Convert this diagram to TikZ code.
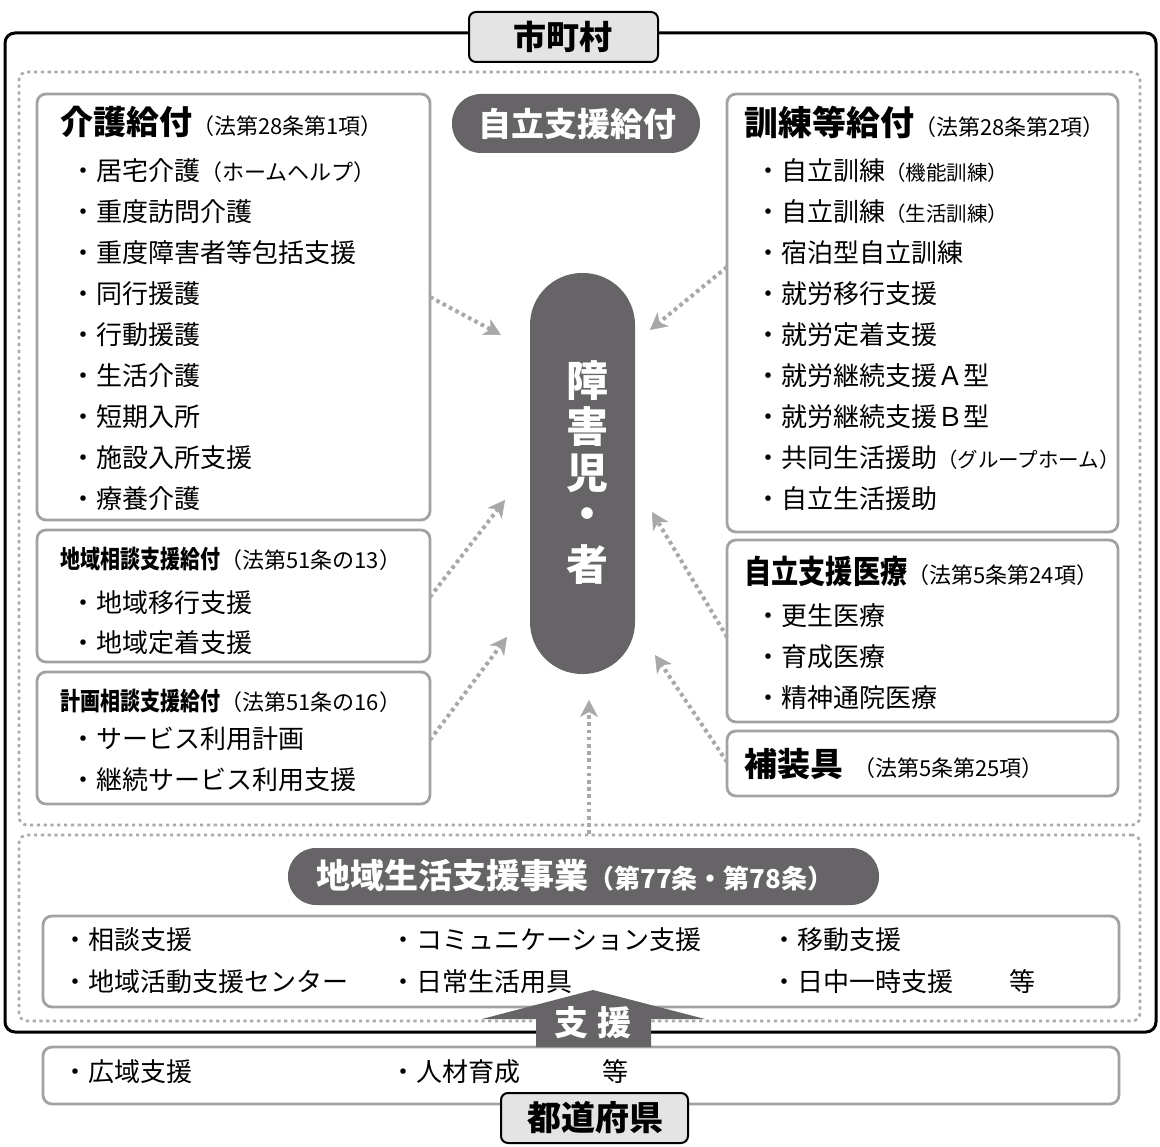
\documentclass[tikz,border=0pt]{standalone}
\usepackage{fontspec}
\usepackage{graphicx}
\setmainfont{Noto Sans CJK JP}
\usetikzlibrary{arrows.meta}
\definecolor{pillgray}{HTML}{666466}
\definecolor{boxgray}{HTML}{A2A2A2}
\definecolor{dotgray}{HTML}{ABABAB}
\definecolor{argray}{HTML}{A8A8A8}
\definecolor{lblfill}{HTML}{E4E4E4}
\newcommand{\fz}[1]{\fontsize{#1pt}{#1pt}\selectfont}
\newcommand{\cnd}[2]{\scalebox{#1}[1]{#2}}
\tikzset{
  frame/.style={draw=black, line width=3pt, rounded corners=10pt, inner sep=0pt, outer sep=0pt},
  dotbox/.style={draw=dotgray, line width=2.6pt, dash pattern=on 3.2pt off 3.6pt, rounded corners=8pt, inner sep=0pt, outer sep=0pt},
  gbox/.style={draw=boxgray, line width=2.8pt, rounded corners=9pt, fill=white, inner sep=0pt, outer sep=0pt},
  pill/.style={fill=pillgray, inner sep=0pt, outer sep=0pt},
  lbl/.style={draw=black, line width=2pt, rounded corners=7pt, fill=lblfill, inner sep=0pt, outer sep=0pt},
  conn/.style={draw=argray, line width=4pt, dash pattern=on 3.6pt off 3.6pt,
     -{Stealth[length=17pt,width=18pt,inset=5pt,line width=0.5pt]}},
  txt/.style={inner sep=0pt, anchor=west, font=\fz{26}},
  ttl/.style={inner sep=0pt, anchor=west, font=\fz{33}\bfseries},
  wtxt/.style={inner sep=0pt, text=white, font=\bfseries},
}
\begin{document}
\begin{tikzpicture}[x=1pt,y=-1pt]
\useasboundingbox (0,0) rectangle (1160,1147);
\fill[white] (0,0) rectangle (1160,1147);

% outer frame and dotted regions
\node[frame, minimum width=1151pt, minimum height=999pt, anchor=north west] (city) at (5,33) {};
\node[dotbox, minimum width=1121pt, minimum height=753pt, anchor=north west] (upper) at (19,72) {};
\node[dotbox, minimum width=1121pt, minimum height=186pt, anchor=north west] (lower) at (19,835) {};

% boxes
\node[gbox, minimum width=393pt, minimum height=426pt, anchor=north west] (kaigo) at (37,94) {};
\node[gbox, minimum width=393pt, minimum height=132pt, anchor=north west] (chiiki) at (37,530) {};
\node[gbox, minimum width=393pt, minimum height=132pt, anchor=north west] (keikaku) at (37,672) {};
\node[gbox, minimum width=391pt, minimum height=438pt, anchor=north west] (kunren) at (727,94) {};
\node[gbox, minimum width=391pt, minimum height=182pt, anchor=north west] (iryo) at (727,540) {};
\node[gbox, minimum width=391pt, minimum height=65pt, anchor=north west] (hosogu) at (727,731) {};
\node[gbox, minimum width=1076pt, minimum height=91pt, anchor=north west] (chiikiitems) at (43,916) {};
\node[gbox, minimum width=1076pt, minimum height=57pt, anchor=north west] (prefitems) at (43,1047) {};

% pills
\node[pill, minimum width=248pt, minimum height=59pt, rounded corners=29pt, anchor=north west] (jiritsu) at (452,94) {};
\node[wtxt, font=\fz{33}\bfseries] (jiritsuT) at (577,124) {自立支援給付};
\node[pill, minimum width=105pt, minimum height=401pt, rounded corners=52pt, anchor=north west] (person) at (530,273) {};
\foreach \c [count=\i] in {障,害,児,・,者}
  \node[wtxt, font=\fz{42}\bfseries] (personT\i) at (587,{381+(\i-1)*46}) {\c};
\node[pill, minimum width=591pt, minimum height=57pt, rounded corners=28pt, anchor=north west] (chiikijigyo) at (288,848) {};
\node[wtxt, anchor=west, font=\fz{34}\bfseries] (chiikijigyoT) at (316,876) {地域生活支援事業\fz{26}（第77条・第78条）};

% 介護給付
\node[ttl] (kaigoT) at (60,122) {介護給付\fz{22}\mdseries（法第28条第1項）};
\foreach \t [count=\i] in {居宅介護{\fz{22}（ホームヘルプ）},重度訪問介護,重度障害者等包括支援,同行援護,行動援護,生活介護,短期入所,施設入所支援,療養介護}
  \node[txt] (kaigo\i) at (70,{499-(9-\i)*41.1}) {・\t};

% 地域相談支援給付
\node[ttl] (chiikiT) at (60,559) {\cnd{0.8}{\fz{25}\bfseries 地域相談支援給付}\fz{22}\mdseries（法第51条の13）};
\node[txt] (chiiki1) at (70,603) {・地域移行支援};
\node[txt] (chiiki2) at (70,643) {・地域定着支援};

% 計画相談支援給付
\node[ttl] (keikakuT) at (60,701) {\cnd{0.8}{\fz{25}\bfseries 計画相談支援給付}\fz{22}\mdseries（法第51条の16）};
\node[txt] (keikaku1) at (70,739) {・サービス利用計画};
\node[txt] (keikaku2) at (70,780) {・継続サービス利用支援};

% 訓練等給付
\node[ttl, font=\fz{34}\bfseries] (kunrenT) at (744,122) {訓練等給付\fz{22}\mdseries（法第28条第2項）};
\foreach \t [count=\i] in {自立訓練{\fz{20.5}（機能訓練）},自立訓練{\fz{20.5}（生活訓練）},宿泊型自立訓練,就労移行支援,就労定着支援,就労継続支援Ａ型,就労継続支援Ｂ型,共同生活援助{\fz{20.5}（グループホーム）},自立生活援助}
  \node[txt] (kunren\i) at (755,{499-(9-\i)*41.1}) {・\t};

% 自立支援医療
\node[ttl] (iryoT) at (744,571) {\cnd{0.85}{\fz{32}\bfseries 自立支援医療}\fz{22}\mdseries（法第5条第24項）};
\node[txt] (iryo1) at (755,616) {・更生医療};
\node[txt] (iryo2) at (755,657) {・育成医療};
\node[txt] (iryo3) at (755,698) {・精神通院医療};

% 補装具
\node[ttl] (hosoguT) at (744,764) {補装具\hspace{10pt}\fz{22}\mdseries（法第5条第25項）};

% 地域生活支援事業 items
\node[txt] (ls1) at (62,940) {・相談支援};
\node[txt] (ls2) at (62,982) {・地域活動支援センター};
\node[txt] (ls3) at (390,940) {・コミュニケーション支援};
\node[txt] (ls4) at (390,982) {・日常生活用具};
\node[txt] (ls5) at (771,940) {・移動支援};
\node[txt] (ls6) at (771,982) {・日中一時支援\hspace{56pt}等};

% 都道府県 items
\node[txt] (ps1) at (62,1072) {・広域支援};
\node[txt] (ps2) at (390,1072) {・人材育成\hspace{82pt}等};

% connectors
\coordinate (s1) at (430,297);  \coordinate (e1) at (501,335);
\coordinate (s2) at (727,267);  \coordinate (e2) at (650,330);
\coordinate (s3) at (430,597);  \coordinate (e3) at (505,500);
\coordinate (s4) at (430,740);  \coordinate (e4) at (507,637);
\coordinate (s5) at (727,637);  \coordinate (e5) at (652,512);
\coordinate (s6) at (727,762);  \coordinate (e6) at (655,655);
\coordinate (s7) at (589,834);  \coordinate (e7) at (589,700);
\foreach \k in {1,...,7} \draw[conn] (s\k) -- (e\k);

% 支援 arrow
\fill[pillgray] (482,1019) -- (593,990) -- (705,1019) -- (651,1019) -- (651,1047)
   -- (536,1047) -- (536,1019) -- cycle;
\node[wtxt, font=\fz{34}\bfseries] (shien) at (593,1023) {支\hspace{9pt}援};

% labels
\node[lbl, minimum width=189pt, minimum height=50pt, anchor=north west] (cityL) at (469,12) {};
\node[inner sep=0pt, font=\fz{33}\bfseries] (cityT) at (563,37) {市町村};
\node[lbl, minimum width=187pt, minimum height=50pt, anchor=north west] (prefL) at (501,1093) {};
\node[inner sep=0pt, font=\fz{34}\bfseries] (prefT) at (595,1118) {都道府県};
\end{tikzpicture}
\end{document}
